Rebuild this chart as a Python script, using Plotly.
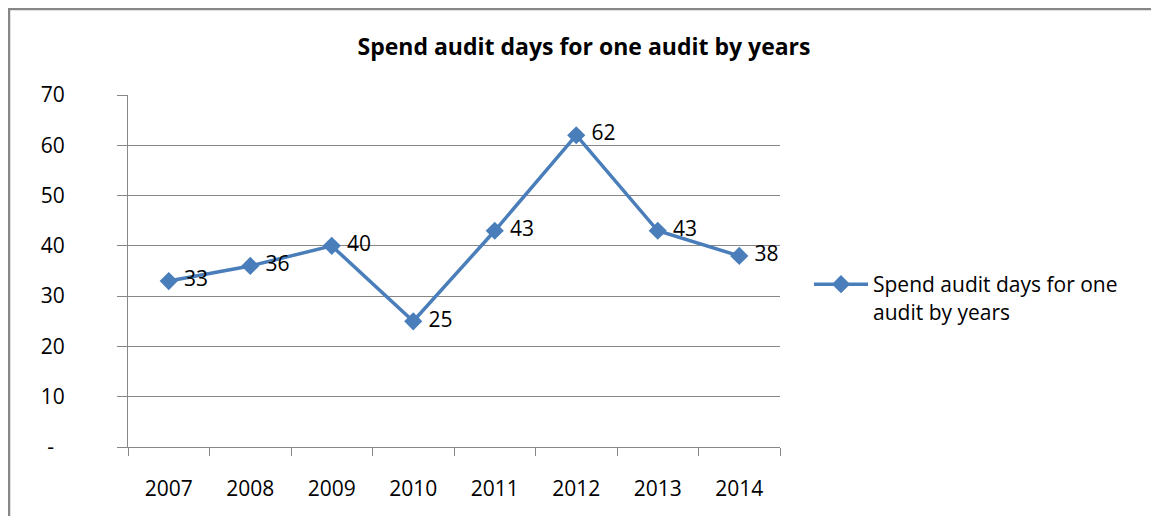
import plotly.graph_objects as go

years = ["2007", "2008", "2009", "2010", "2011", "2012", "2013", "2014"]
days = [33, 36, 40, 25, 43, 62, 43, 38]
y_tick_vals = [0, 10, 20, 30, 40, 50, 60, 70]
y_tick_text = ["-\u00a0\u00a0", "10", "20", "30", "40", "50", "60", "70"]
series_name = "Spend audit days for one<br>audit by years"
title_text = "Spend audit days for one audit by years"

FONT = "Open Sans"
BLUE = "#4A7EBB"
GRAY = "#878787"

fig = go.Figure()
fig.add_trace(go.Scatter(
    x=years, y=days, name=series_name,
    mode="lines+markers+text",
    line=dict(color=BLUE, width=3.5),
    marker=dict(symbol="diamond", size=14, color=BLUE),
    text=["\u00a0" + str(v) for v in days],
    textposition="middle right",
    textfont=dict(family=FONT, size=21, color="#000000"),
    cliponaxis=False,
))

# page body has an 8px margin, so work in figure coordinates
W, H = 1143, 508
L, T = 120, 87
PR, PB = 772, 439
R, B = W - PR, H - PB
pw, ph = PR - L, PB - T

def px(xp):
    return (xp - L) / pw

def py(yp):
    return (PB - yp) / ph

fig.update_layout(
    width=W, height=H,
    margin=dict(l=L, r=R, t=T, b=B, pad=0),
    paper_bgcolor="white", plot_bgcolor="white",
    font=dict(family=FONT, size=21, color="#000000"),
    title=dict(text="<b>" + title_text + "</b>", x=576 / W, xanchor="center",
               y=1 - 39 / H, yanchor="middle", font=dict(family=FONT, size=23)),
    showlegend=True,
    legend=dict(x=px(801), xanchor="left", y=py(256), yanchor="top",
                valign="top", itemwidth=54, bgcolor="rgba(0,0,0,0)",
                font=dict(family=FONT, size=21)),
    xaxis=dict(type="category", tickson="boundaries", ticks="outside", ticklen=8,
               tickcolor=GRAY, showgrid=False, showline=True, linecolor=GRAY, linewidth=1,
               ticklabelstandoff=23, tickfont=dict(family=FONT, size=21), zeroline=False,
               range=[-0.5, 7.5]),
    yaxis=dict(range=[0, 70], tickvals=y_tick_vals, ticktext=y_tick_text,
               ticks="outside", ticklen=10, tickcolor=GRAY, showgrid=True,
               gridcolor=GRAY, gridwidth=1, showline=True, linecolor=GRAY, linewidth=1,
               zeroline=False, ticklabelstandoff=48, tickfont=dict(family=FONT, size=21)),
    shapes=[
        dict(type="line", xref="paper", yref="paper", x0=px(1), x1=px(1),
             y0=py(0), y1=py(H + 5), line=dict(color=GRAY, width=2.5)),
        dict(type="line", xref="paper", yref="paper", x0=px(0), x1=px(W + 5),
             y0=py(1), y1=py(1), line=dict(color=GRAY, width=2.5)),
    ],
)

fig.write_html("out.html")
